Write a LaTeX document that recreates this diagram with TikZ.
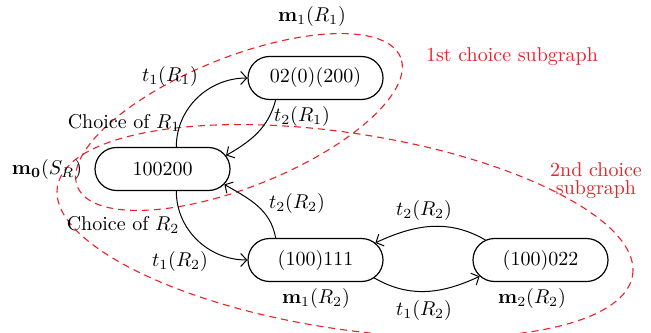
\documentclass[tikz,border=0pt]{standalone}
\usetikzlibrary{shapes.misc,arrows.meta}
\definecolor{subred}{RGB}{236,32,40}
\begin{document}
\begin{tikzpicture}[x=0.5pt,y=0.5pt,
  state/.style={rounded rectangle, draw, line width=0.6pt, minimum width=67.5pt, minimum height=21.5pt, inner sep=0pt},
  trans/.style={-{Straight Barb[length=3pt,width=6.5pt]}, line width=0.5pt},
  region/.style={draw=subred, dash pattern=on 3.5pt off 2.5pt, line width=0.55pt},
  lbl/.style={inner sep=0pt},
  redlbl/.style={text=subred, inner sep=0pt, align=center}]
\useasboundingbox (0,0) rectangle (651,332);
% choice subgraphs
\draw[region, rotate around={21.8:(239,210)}] (239,210) ellipse [x radius=87pt, y radius=32.5pt];
\draw[region, rotate around={-8.7:(345,101)}] (345,101) ellipse [x radius=145.5pt, y radius=49pt];
% states
\node[state] (n2) at (315.5,254) {02(0)(200)};
\node[state] (n1) at (162.5,163) {100200};
\node[state] (n3) at (315.5,72) {(100)111};
\node[state] (n4) at (540.5,72) {(100)022};
% transitions
\draw[trans] (n1.58) to[out=90,in=180] (n2.west);
\draw[trans] (n2.209) to[out=-105,in=30] (n1.12);
\draw[trans] (n1.-58) to[out=-90,in=180] (n3.west);
\draw[trans] (n3.151) to[out=100,in=-30] (n1.-14);
\draw[trans] (n4.160) to[out=150,in=25] (n3.16);
\draw[trans] (n3.-17) to[out=-30,in=-155] (n4.195);
% labels
\node[lbl] (lm1r1) at (312,315) {$\mathbf{m}_1(R_1)$};
\node[redlbl] (lsub1) at (512,275) {1st choice subgraph};
\node[lbl] (lt1r1) at (170,255) {$t_1(R_1)$};
\node[lbl] (lt2r1) at (302,215) {$t_2(R_1)$};
\node[lbl] (lch1) at (124,209) {Choice of $R_1$};
\node[lbl] (lm0) at (47,162) {$\mathbf{m}_{\mathbf{0}}(S_R)$};
\node[lbl] (lch2) at (123,107) {Choice of $R_2$};
\node[lbl] (lt1r2a) at (180,71) {$t_1(R_2)$};
\node[lbl] (lt2r2a) at (297,129) {$t_2(R_2)$};
\node[lbl] (lm1r2) at (316,34) {$\mathbf{m}_1(R_2)$};
\node[lbl] (lt2r2b) at (424,122) {$t_2(R_2)$};
\node[lbl] (lt1r2b) at (424,22) {$t_1(R_2)$};
\node[lbl] (lm2r2) at (532,34) {$\mathbf{m}_2(R_2)$};
\node[redlbl] (lsub2) at (596,151) {2nd choice\\[-3pt]subgraph};
\end{tikzpicture}
\end{document}
